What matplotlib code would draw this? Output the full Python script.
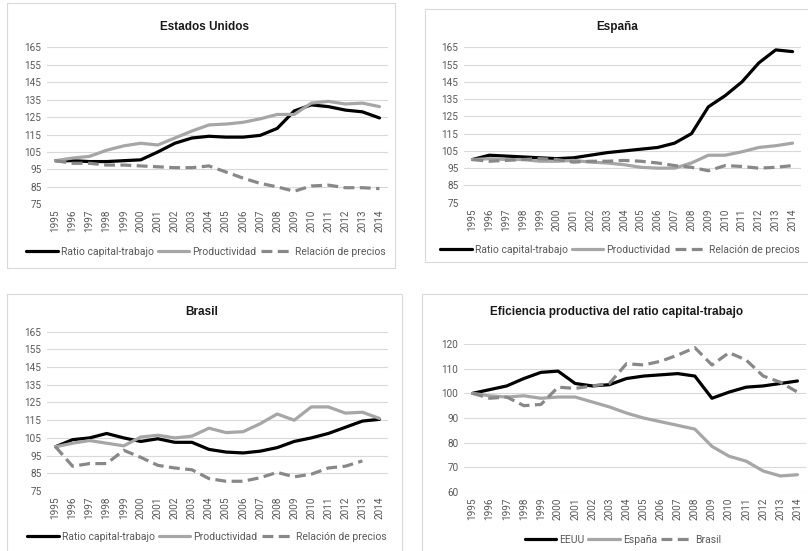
""" Four Excel-style line panels: US, Spain, Brazil and capital-labour efficiency """
import numpy as np
from matplotlib import pyplot as plt
from matplotlib.patches import Rectangle

plt.rcParams['font.family'] = ['Roboto', 'DejaVu Sans']

years = [str(y) for y in range(1995, 2015)]

# Estados Unidos
us_ratio = [100, 100, 99.5, 99.5, 100, 100.5, 105, 110, 113, 114,
            113.5, 113.5, 114.5, 118.5, 128.5, 132, 131, 129, 128, 124.5]
us_prod = [100, 101.5, 102.5, 106, 108.5, 110, 109, 113, 117, 120.5,
           121, 122, 124, 126.5, 126.5, 133, 134, 132.5, 133, 131]
us_prices = [100, 98.5, 98.5, 97.5, 97.5, 97, 96.5, 96, 96, 97,
             93.5, 90, 87, 85, 82.5, 85.5, 86, 84.5, 84.5, 84]

# España
es_ratio = [100, 102.5, 102, 101.5, 101, 100.5, 101, 102.5, 104, 105,
            106, 107, 109.5, 115, 130.5, 137, 145, 156, 163.5, 162.5]
es_prod = [100, 100.5, 100, 100, 99, 99, 99.5, 98.5, 98, 97,
           95.5, 95, 95, 98, 102.5, 102.5, 104.5, 107, 108, 109.5]
es_prices = [100, 99, 99.5, 100, 100.5, 100, 98.5, 99, 99, 99.5,
             99, 98, 96.5, 95.5, 93.5, 96.5, 96, 95, 95.5, 96.5]

# Brasil (no 2014 value for prices)
br_ratio = [100, 104, 105, 107.5, 105, 103, 104.5, 102.5, 102.5, 98.5,
            97, 96.5, 97.5, 99.5, 103, 105, 107.5, 111, 114.5, 115.5]
br_prod = [100, 102, 103.5, 102, 100.5, 105.5, 106.5, 105, 106, 110.5,
           108, 108.5, 113, 118.5, 115, 122.5, 122.5, 119, 119.5, 116]
br_prices = [100, 89, 90.5, 90.5, 98, 94, 89.5, 88, 87, 82,
             80.5, 80.5, 82.5, 85.5, 83, 84.5, 88, 89, 92, np.nan]

# Eficiencia productiva del ratio capital-trabajo
eff_us = [100, 101.5, 103, 106, 108.5, 109, 104, 103, 103.5, 106,
          107, 107.5, 108, 107, 98, 100.5, 102.5, 103, 104, 105]
eff_es = [100, 99, 98.5, 99, 98, 98.5, 98.5, 96.5, 94.5, 92,
          90, 88.5, 87, 85.5, 78.5, 74.5, 72.5, 68.5, 66.5, 67]
eff_br = [100, 98, 98.5, 95, 95.5, 102.5, 102, 103, 104, 112,
          111.5, 113, 115.5, 118.5, 111.5, 116.5, 113.5, 107, 104.5, 100.5]

labels_main = ['Ratio capital-trabajo', 'Productividad', 'Relación de precios']
labels_eff = ['EEUU', 'España', 'Brasil']

W, H = 808, 551
BLACK, GRAY, DASH = '#000000', '#a6a6a6', '#888888'
TXT = '#595959'


def fx(px):
    return px / W


def fy(py):
    return 1 - py / H


def panel(fig, box, area, title, title_xy, series, labels, yticks, legend_xy):
    # chart border
    x0, y0, x1, y1 = box
    fig.patches.append(Rectangle((fx(x0), fy(y1)), fx(x1 - x0), (y1 - y0) / H,
                                 transform=fig.transFigure, fill=False,
                                 edgecolor='#d9d9d9', lw=0.8))
    l, t, r, b = area
    ax = fig.add_axes([fx(l), fy(b), fx(r - l), (b - t) / H])
    x = np.arange(len(years))
    styles = [dict(color=BLACK, ls='-'), dict(color=GRAY, ls='-'),
              dict(color=DASH, ls=(0, (3.4, 1.7)))]
    for vals, lab, st in zip(series, labels, styles):
        ax.plot(x, vals, lw=2.3, label=lab, solid_capstyle='round', **st)
    ax.set_xlim(-0.5, len(years) - 0.5)
    ax.set_ylim(yticks[0], yticks[-1])
    ax.set_yticks(yticks)
    ax.set_xticks(x)
    ax.set_xticklabels(years, rotation=90)
    ax.grid(axis='y', color='#d9d9d9', lw=0.8)
    ax.set_axisbelow(True)
    for s in ax.spines.values():
        s.set_visible(False)
    ax.tick_params(length=0, labelsize=7.2, colors=TXT, pad=4)
    fig.text(fx(title_xy[0]), fy(title_xy[1]), title, ha='center', va='center',
             fontsize=8.5, fontweight='bold', family='Liberation Sans', color='#1a1a1a')
    h, lb = ax.get_legend_handles_labels()
    fig.legend(h, lb, loc='center', bbox_to_anchor=(fx(legend_xy[0]), fy(legend_xy[1])),
               ncol=3, frameon=False, fontsize=7.5, labelcolor=TXT, handlelength=3.0,
               handletextpad=0.3, columnspacing=0.4, borderpad=0)
    return ax


fig = plt.figure(figsize=(W / 100, H / 100), dpi=100)

yt_main = list(range(75, 166, 10))
panel(fig, (7, 3, 395, 268), (47, 47.3, 388, 204.3), 'Estados Unidos', (204, 27),
      [us_ratio, us_prod, us_prices], labels_main, yt_main, (206, 252))
panel(fig, (425, 9, 812, 262), (464, 47.3, 801, 202.7), 'España', (617, 27),
      [es_ratio, es_prod, es_prices], labels_main, yt_main, (620, 250))
panel(fig, (7, 294, 402, 560), (47, 331.7, 388, 491), 'Brasil', (202, 312),
      [br_ratio, br_prod, br_prices], labels_main, yt_main, (207, 537))
panel(fig, (422, 294, 812, 560), (464, 344, 806, 492),
      'Eficiencia productiva del ratio capital-trabajo', (617, 312),
      [eff_us, eff_es, eff_br], labels_eff, list(range(60, 121, 10)), (623, 540))

plt.savefig('out.png', dpi=100)
